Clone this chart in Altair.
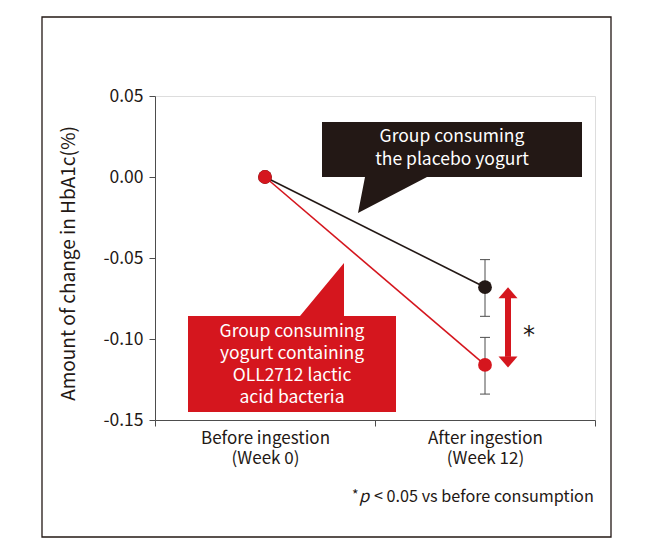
import altair as alt
import pandas as pd

# ---------------- data ----------------
categories = ["Before ingestion|(Week 0)", "After ingestion|(Week 12)"]
placebo_mean = [0.0, -0.068]
placebo_low = [None, -0.086]
placebo_high = [None, -0.051]
oll_mean = [0.0, -0.116]
oll_low = [None, -0.134]
oll_high = [None, -0.099]
group_names = ["placebo", "OLL2712"]
y_ticks = [-0.15, -0.10, -0.05, 0.0, 0.05]

# significance arrow (data units) between the week-12 means
arrow_top = -0.068
arrow_bottom = -0.1176
shaft_top = -0.0745
shaft_bottom = -0.111

RED = "#d5161e"
BLACK = "#231815"
AXIS = "#4d4d4d"
FONT = "Noto Sans CJK JP"

rows = []
for i, c in enumerate(categories):
    rows.append(dict(time=c, group="placebo", mean=placebo_mean[i], low=placebo_low[i], high=placebo_high[i]))
    rows.append(dict(time=c, group="OLL2712", mean=oll_mean[i], low=oll_low[i], high=oll_high[i]))
df = pd.DataFrame(rows)
err = df.dropna()
one = pd.DataFrame({"k": [0]})
arrow_df = pd.DataFrame({"time": [categories[1]], "top": [arrow_top], "bottom": [arrow_bottom],
                         "s1": [shaft_top], "s2": [shaft_bottom]})

xscale = alt.Scale(type="band", domain=categories, paddingInner=0, paddingOuter=0)
yscale = alt.Scale(domain=[-0.15, 0.05], nice=False, zero=False)

xenc = alt.X("time:N", scale=xscale, sort=categories,
             axis=alt.Axis(title=None, labelAngle=0, tickBand="extent",
                           labelExpr="split(datum.label, '|')", labelLineHeight=20,
                           labelFont=FONT, labelFontSize=17, labelColor=BLACK,
                           labelPadding=4, domainColor=AXIS, tickColor=AXIS,
                           tickSize=6, grid=False))
yaxis = alt.Axis(values=y_ticks, title="Amount of change in HbA1c(%)",
                 labelExpr="replace(format(datum.value, '.2f'), '\u2212', '-')",
                 labelFont=FONT, labelFontSize=17.5, labelColor=BLACK, labelPadding=6,
                 titleFont=FONT, titleFontSize=19, titleFontWeight="normal", titleColor=BLACK,
                 titleX=-87, titleY=167, titleAngle=-90, titleAlign="center", titleBaseline="middle",
                 domainColor=AXIS, tickColor=AXIS, tickSize=6, grid=False)

base = alt.Chart(df)

frame = alt.Chart(one).mark_rect(fill=None, stroke=BLACK, strokeWidth=1.3).encode(
    x=alt.value(-113), x2=alt.value(456), y=alt.value(-79), y2=alt.value(441))

err_rule = alt.Chart(err).mark_rule(color=AXIS, strokeWidth=1).encode(
    x=xenc, y=alt.Y("low:Q", scale=yscale, axis=yaxis), y2="high:Q")
cap_lo = alt.Chart(err).mark_tick(color=AXIS, thickness=1, size=10, opacity=1).encode(
    x=alt.X("time:N", scale=xscale), y=alt.Y("low:Q", scale=yscale))
cap_hi = alt.Chart(err).mark_tick(color=AXIS, thickness=1, size=10, opacity=1).encode(
    x=alt.X("time:N", scale=xscale), y=alt.Y("high:Q", scale=yscale))

lines = base.mark_line(strokeWidth=1.6).encode(
    x=alt.X("time:N", scale=xscale, sort=categories),
    y=alt.Y("mean:Q", scale=yscale),
    color=alt.Color("group:N", scale=alt.Scale(domain=group_names, range=[BLACK, RED]), legend=None))

pts_black = base.transform_filter("datum.group == 'placebo'").mark_circle(size=190, opacity=1, color=BLACK).encode(
    x=alt.X("time:N", scale=xscale), y=alt.Y("mean:Q", scale=yscale))
pts_red = base.transform_filter("datum.group == 'OLL2712'").mark_circle(size=190, opacity=1, color=RED).encode(
    x=alt.X("time:N", scale=xscale), y=alt.Y("mean:Q", scale=yscale))

shaft = alt.Chart(arrow_df).mark_rule(color=RED, strokeWidth=6, xOffset=23).encode(
    x=alt.X("time:N", scale=xscale), y=alt.Y("s1:Q", scale=yscale), y2="s2:Q")
head_top = alt.Chart(arrow_df).mark_point(shape="M0,0L9.5,11L-9.5,11Z", size=4, filled=True,
                                          fill=RED, strokeWidth=0, opacity=1, xOffset=23).encode(
    x=alt.X("time:N", scale=xscale), y=alt.Y("top:Q", scale=yscale))
head_bot = alt.Chart(arrow_df).mark_point(shape="M0,0L9.5,-11L-9.5,-11Z", size=4, filled=True,
                                          fill=RED, strokeWidth=0, opacity=1, xOffset=23).encode(
    x=alt.X("time:N", scale=xscale), y=alt.Y("bottom:Q", scale=yscale))
star = alt.Chart(one).mark_text(font="DejaVu Sans", fontSize=24, color=BLACK, align="center",
                                baseline="alphabetic").encode(
    x=alt.value(374), y=alt.value(247), text=alt.value("*"))

callout_black = alt.Chart(one).mark_point(shape="M167,26H427V81H272L203,117L210,81H167Z", size=4,
                                          filled=True, fill=BLACK, strokeWidth=0, opacity=1).encode(
    x=alt.value(0), y=alt.value(0))
text_black = alt.Chart(one).mark_text(font=FONT, fontSize=17.5, color="white", align="center",
                                      baseline="middle", lineHeight=23).encode(
    x=alt.value(297), y=alt.value(41), text=alt.value(["Group consuming", "the placebo yogurt"]))

callout_red = alt.Chart(one).mark_point(shape="M33,220H145L189,167V220H241V316H33Z", size=4,
                                        filled=True, fill=RED, strokeWidth=0, opacity=1).encode(
    x=alt.value(0), y=alt.value(0))
text_red = alt.Chart(one).mark_text(font=FONT, fontSize=17.5, color="white", align="center",
                                    baseline="middle", lineHeight=22).encode(
    x=alt.value(137), y=alt.value(236), text=alt.value(["Group consuming", "yogurt containing",
                                                        "OLL2712 lactic", "acid bacteria"]))

foot_star = alt.Chart(one).mark_text(font=FONT, fontSize=14, color=BLACK, align="left",
                                     baseline="alphabetic").encode(
    x=alt.value(197), y=alt.value(404), text=alt.value("*"))
foot_p = alt.Chart(one).mark_text(font=FONT, fontSize=16.5, fontStyle="italic", color=BLACK, align="left",
                                  baseline="alphabetic").encode(
    x=alt.value(204), y=alt.value(406), text=alt.value("p"))
foot_rest = alt.Chart(one).mark_text(font=FONT, fontSize=16.2, color=BLACK, align="left",
                                     baseline="alphabetic").encode(
    x=alt.value(219), y=alt.value(406), text=alt.value("< 0.05 vs before consumption"))

chart = alt.layer(
    frame, err_rule, cap_lo, cap_hi, lines, pts_black, pts_red,
    shaft, head_top, head_bot, star,
    callout_black, text_black, callout_red, text_red,
    foot_star, foot_p, foot_rest,
).properties(
    width=440, height=324,
    autosize=alt.AutoSizeParams(type="none"),
    padding={"left": 147, "top": 88, "right": 47, "bottom": 127},
).configure_view(stroke=None).configure(background="white")

chart.save("out.html", embed_options={"renderer": "svg", "actions": False})
